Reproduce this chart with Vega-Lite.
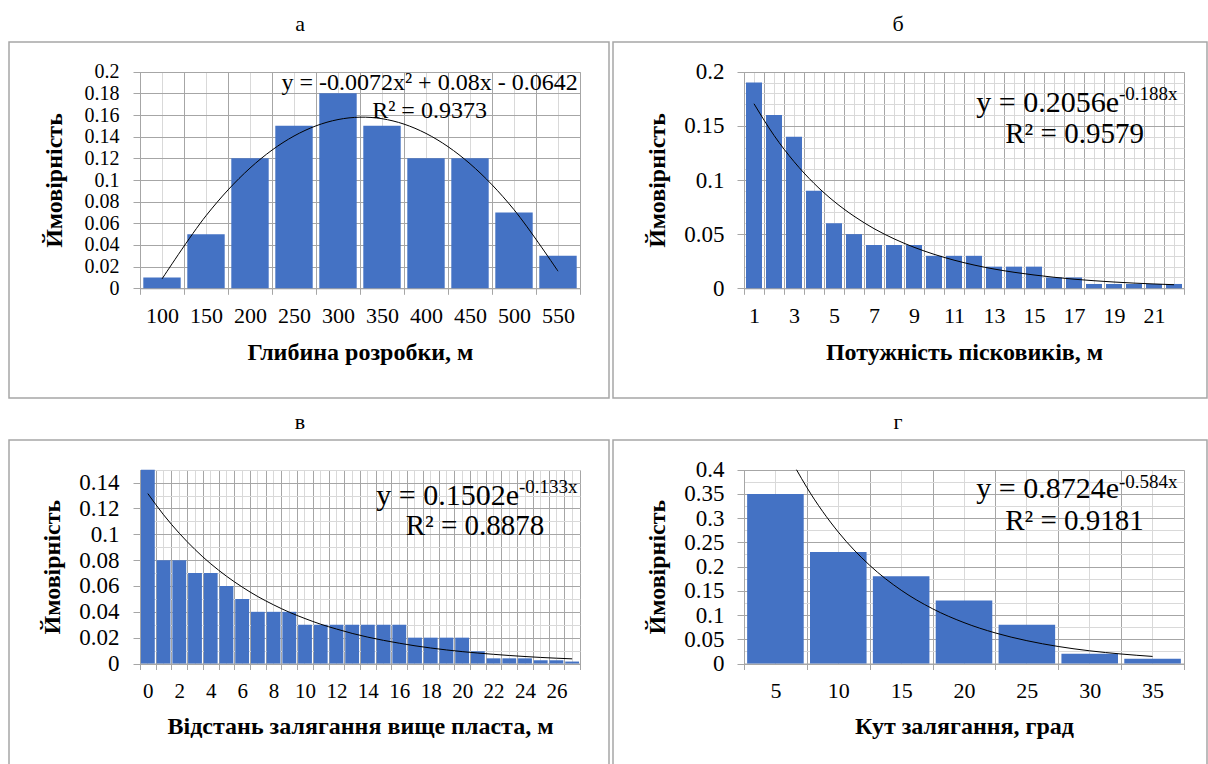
{
  "$schema": "https://vega.github.io/schema/vega-lite/v6.json",
  "padding": {"left": 8, "top": 12, "right": 0, "bottom": 0},
  "background": "white",
  "datasets": {
    "a_bars": [{"k":100,"p":0.01},{"k":150,"p":0.05},{"k":200,"p":0.12},{"k":250,"p":0.15},{"k":300,"p":0.18},{"k":350,"p":0.15},{"k":400,"p":0.12},{"k":450,"p":0.12},{"k":500,"p":0.07},{"k":550,"p":0.03}],
    "a_trend": [{"t":1,"v":0.0086},{"t":2,"v":0.067},{"t":3,"v":0.111},{"t":4,"v":0.1406},{"t":5,"v":0.1558},{"t":6,"v":0.1566},{"t":7,"v":0.143},{"t":8,"v":0.115},{"t":9,"v":0.0726},{"t":10,"v":0.0158}],
    "a_eq": [{"eq":"y = -0.0072x² + 0.08x - 0.0642","r2":"R² = 0.9373"}],
    "b_bars": [{"k":1,"p":0.19},{"k":2,"p":0.16},{"k":3,"p":0.14},{"k":4,"p":0.09},{"k":5,"p":0.06},{"k":6,"p":0.05},{"k":7,"p":0.04},{"k":8,"p":0.04},{"k":9,"p":0.04},{"k":10,"p":0.03},{"k":11,"p":0.03},{"k":12,"p":0.03},{"k":13,"p":0.02},{"k":14,"p":0.02},{"k":15,"p":0.02},{"k":16,"p":0.01},{"k":17,"p":0.01},{"k":18,"p":0.004},{"k":19,"p":0.004},{"k":20,"p":0.004},{"k":21,"p":0.004},{"k":22,"p":0.004}],
    "b_trend": [{"t":1,"v":0.1704},{"t":2,"v":0.1412},{"t":3,"v":0.117},{"t":4,"v":0.0969},{"t":5,"v":0.0803},{"t":6,"v":0.0666},{"t":7,"v":0.0551},{"t":8,"v":0.0457},{"t":9,"v":0.0379},{"t":10,"v":0.0314},{"t":11,"v":0.026},{"t":12,"v":0.0215},{"t":13,"v":0.0178},{"t":14,"v":0.0148},{"t":15,"v":0.0123},{"t":16,"v":0.0102},{"t":17,"v":0.0084},{"t":18,"v":0.007},{"t":19,"v":0.0058},{"t":20,"v":0.0048},{"t":21,"v":0.004},{"t":22,"v":0.0033}],
    "b_eq": [{"eq":"y = 0.2056e","ex":"-0.188x","r2":"R² = 0.9579"}],
    "c_bars": [{"k":0,"p":0.15},{"k":1,"p":0.08},{"k":2,"p":0.08},{"k":3,"p":0.07},{"k":4,"p":0.07},{"k":5,"p":0.06},{"k":6,"p":0.05},{"k":7,"p":0.04},{"k":8,"p":0.04},{"k":9,"p":0.04},{"k":10,"p":0.03},{"k":11,"p":0.03},{"k":12,"p":0.03},{"k":13,"p":0.03},{"k":14,"p":0.03},{"k":15,"p":0.03},{"k":16,"p":0.03},{"k":17,"p":0.02},{"k":18,"p":0.02},{"k":19,"p":0.02},{"k":20,"p":0.02},{"k":21,"p":0.0095},{"k":22,"p":0.004},{"k":23,"p":0.004},{"k":24,"p":0.004},{"k":25,"p":0.0025},{"k":26,"p":0.0025},{"k":27,"p":0.0015}],
    "c_trend": [{"t":1,"v":0.1315},{"t":2,"v":0.1151},{"t":3,"v":0.1008},{"t":4,"v":0.0882},{"t":5,"v":0.0772},{"t":6,"v":0.0676},{"t":7,"v":0.0592},{"t":8,"v":0.0518},{"t":9,"v":0.0454},{"t":10,"v":0.0397},{"t":11,"v":0.0348},{"t":12,"v":0.0304},{"t":13,"v":0.0267},{"t":14,"v":0.0233},{"t":15,"v":0.0204},{"t":16,"v":0.0179},{"t":17,"v":0.0157},{"t":18,"v":0.0137},{"t":19,"v":0.012},{"t":20,"v":0.0105},{"t":21,"v":0.0092},{"t":22,"v":0.0081},{"t":23,"v":0.0071},{"t":24,"v":0.0062},{"t":25,"v":0.0054},{"t":26,"v":0.0047},{"t":27,"v":0.0041},{"t":28,"v":0.0036}],
    "c_eq": [{"eq":"y = 0.1502e","ex":"-0.133x","r2":"R² = 0.8878"}],
    "d_bars": [{"k":5,"p":0.35},{"k":10,"p":0.23},{"k":15,"p":0.18},{"k":20,"p":0.13},{"k":25,"p":0.08},{"k":30,"p":0.02},{"k":35,"p":0.01}],
    "d_trend": [{"t":1.335,"v":0.4},{"t":1.5,"v":0.3633},{"t":2,"v":0.2713},{"t":2.5,"v":0.2026},{"t":3,"v":0.1513},{"t":3.5,"v":0.113},{"t":4,"v":0.0844},{"t":4.5,"v":0.063},{"t":5,"v":0.0471},{"t":5.5,"v":0.0351},{"t":6,"v":0.0262},{"t":6.5,"v":0.0196},{"t":7,"v":0.0146}],
    "d_eq": [{"eq":"y = 0.8724e","ex":"-0.584x","r2":"R² = 0.9181"}]
  },
  "spacing": 11,
  "bounds": "full",
  "vconcat": [
    {
      "spacing": 4,
      "bounds": "flush",
      "hconcat": [
        {
          "width": 600, "height": 356,
          "title": {"text": "а", "dx": -9},
          "layer": [
            {
              "data": {"name": "a_bars"},
              "mark": {"type": "bar", "opacity": 0},
              "encoding": {
                "x": {"field": "k", "type": "ordinal", "scale": {"range": [131, 571], "paddingInner": 0, "paddingOuter": 0},
                      "axis": {"orient": "top", "offset": 0, "grid": true, "gridColor": "#d9d9d9", "labels": false, "ticks": false, "domain": false, "title": null}},
                "y": {"field": "p", "type": "quantitative", "scale": {"domain": [0, 0.2], "range": [246.3, 29.7], "nice": false}, "axis": null}
              }
            },
            {
              "data": {"name": "a_bars"},
              "mark": {"type": "bar", "opacity": 0},
              "encoding": {
                "x": {"field": "k", "type": "ordinal", "scale": {"range": [131, 571], "paddingInner": 0, "paddingOuter": 0},
                      "axis": {"orient": "top", "offset": 0, "tickBand": "extent", "grid": true, "labels": false, "ticks": false, "domain": false, "title": null}},
                "y": {"field": "p", "type": "quantitative", "scale": {"domain": [0, 0.2], "range": [246.3, 29.7], "nice": false}, "axis": null}
              }
            },
            {
              "data": {"name": "a_bars"},
              "mark": {"type": "bar", "color": "#4472C4", "width": {"band": 0.85}},
              "encoding": {
                "x": {"field": "k", "type": "ordinal", "scale": {"range": [131, 571], "paddingInner": 0, "paddingOuter": 0},
                      "axis": {"orient": "bottom", "offset": -109.7, "tickBand": "extent", "grid": false, "labelAngle": 0, "labelOverlap": false, "tickSize": 6, "labelPadding": 11, "labelFontSize": 22, "title": "Глибина розробки, м", "titlePadding": 14}},
                "y": {"field": "p", "type": "quantitative", "scale": {"domain": [0, 0.2], "range": [246.3, 29.7], "nice": false},
                      "axis": {"orient": "left", "offset": -131, "values": [0,0.02,0.04,0.06,0.08,0.1,0.12,0.14,0.16,0.18,0.2], "format": "~g", "labelOverlap": false, "labelFontSize": 20, "grid": true, "tickSize": 7, "labelPadding": 14, "title": "Ймовірність", "titlePadding": 18}}
              }
            },
            {
              "layer": [
                {
                  "data": {"name": "a_trend"},
                  "mark": {"type": "line", "color": "black", "strokeWidth": 1, "interpolate": "cardinal"},
                  "encoding": {
                    "x": {"field": "t", "type": "quantitative", "scale": {"domain": [0.5, 10.5], "range": [131, 571], "nice": false, "zero": false}, "axis": null},
                    "y": {"field": "v", "type": "quantitative", "axis": null}
                  }
                },
                {
                  "data": {"name": "a_eq"},
                  "mark": {"type": "text", "fontSize": 24, "align": "center", "baseline": "middle"},
                  "encoding": {"x": {"datum": 7.08, "type": "quantitative", "axis": null}, "y": {"datum": 0.1896, "type": "quantitative", "axis": null}, "text": {"field": "eq"}}
                },
                {
                  "data": {"name": "a_eq"},
                  "mark": {"type": "text", "fontSize": 24, "align": "center", "baseline": "middle"},
                  "encoding": {"x": {"datum": 7.08, "type": "quantitative", "axis": null}, "y": {"datum": 0.1637, "type": "quantitative", "axis": null}, "text": {"field": "r2"}}
                }
              ]
            }
          ],
          "resolve": {"scale": {"x": "independent"}, "axis": {"x": "independent", "y": "independent"}}
        },
        {
          "width": 594, "height": 356,
          "title": {"text": "б", "dx": -12},
          "layer": [
            {
              "data": {"name": "b_bars"},
              "mark": {"type": "bar", "opacity": 0},
              "encoding": {
                "x": {"field": "k", "type": "ordinal", "scale": {"range": [131, 571], "paddingInner": 0, "paddingOuter": 0},
                      "axis": {"orient": "top", "offset": 0, "grid": true, "gridColor": "#d9d9d9", "labels": false, "ticks": false, "domain": false, "title": null}},
                "y": {"field": "p", "type": "quantitative", "scale": {"domain": [0, 0.2], "range": [246.3, 29.7], "nice": false},
                      "axis": {"orient": "left", "offset": -131, "values": [0,0.01,0.02,0.03,0.04,0.05,0.06,0.07,0.08,0.09,0.1,0.11,0.12,0.13,0.14,0.15,0.16,0.17,0.18,0.19,0.2], "grid": true, "gridColor": "#d9d9d9", "labels": false, "ticks": false, "domain": false, "title": null}}
              }
            },
            {
              "data": {"name": "b_bars"},
              "mark": {"type": "bar", "opacity": 0},
              "encoding": {
                "x": {"field": "k", "type": "ordinal", "scale": {"range": [131, 571], "paddingInner": 0, "paddingOuter": 0},
                      "axis": {"orient": "top", "offset": 0, "tickBand": "extent", "grid": true, "labels": false, "ticks": false, "domain": false, "title": null}},
                "y": {"field": "p", "type": "quantitative", "scale": {"domain": [0, 0.2], "range": [246.3, 29.7], "nice": false}, "axis": null}
              }
            },
            {
              "data": {"name": "b_bars"},
              "mark": {"type": "bar", "color": "#4472C4", "width": {"band": 0.8}},
              "encoding": {
                "x": {"field": "k", "type": "ordinal", "scale": {"range": [131, 571], "paddingInner": 0, "paddingOuter": 0},
                      "axis": {"orient": "bottom", "offset": -109.7, "tickBand": "extent", "grid": false, "labelAngle": 0, "labelOverlap": false, "labelExpr": "datum.value % 2 == 1 ? datum.label : ''", "tickSize": 6, "labelPadding": 11, "labelFontSize": 22, "title": "Потужність пісковиків, м", "titlePadding": 14}},
                "y": {"field": "p", "type": "quantitative", "scale": {"domain": [0, 0.2], "range": [246.3, 29.7], "nice": false},
                      "axis": {"orient": "left", "offset": -131, "values": [0,0.05,0.1,0.15,0.2], "format": "~g", "labelOverlap": false, "grid": true, "tickSize": 7, "labelPadding": 13, "title": "Ймовірність", "titlePadding": 14}}
              }
            },
            {
              "layer": [
                {
                  "data": {"name": "b_trend"},
                  "mark": {"type": "line", "color": "black", "strokeWidth": 1, "interpolate": "monotone"},
                  "encoding": {
                    "x": {"field": "t", "type": "quantitative", "scale": {"domain": [0.5, 22.5], "range": [131, 571], "nice": false, "zero": false}, "axis": null},
                    "y": {"field": "v", "type": "quantitative", "axis": null}
                  }
                },
                {
                  "data": {"name": "b_eq"},
                  "mark": {"type": "text", "fontSize": 30, "align": "right", "baseline": "middle"},
                  "encoding": {"x": {"datum": 19.25, "type": "quantitative", "axis": null}, "y": {"datum": 0.1714, "type": "quantitative", "axis": null}, "text": {"field": "eq"}}
                },
                {
                  "data": {"name": "b_eq"},
                  "mark": {"type": "text", "fontSize": 19, "align": "left", "baseline": "middle"},
                  "encoding": {"x": {"datum": 19.25, "type": "quantitative", "axis": null}, "y": {"datum": 0.1794, "type": "quantitative", "axis": null}, "text": {"field": "ex"}}
                },
                {
                  "data": {"name": "b_eq"},
                  "mark": {"type": "text", "fontSize": 29, "align": "center", "baseline": "middle"},
                  "encoding": {"x": {"datum": 17.03, "type": "quantitative", "axis": null}, "y": {"datum": 0.1425, "type": "quantitative", "axis": null}, "text": {"field": "r2"}}
                }
              ]
            }
          ],
          "resolve": {"scale": {"x": "independent"}, "axis": {"x": "independent", "y": "independent"}}
        }
      ]
    },
    {
      "spacing": 4,
      "bounds": "flush",
      "hconcat": [
        {
          "width": 600, "height": 325,
          "title": {"text": "в", "dx": -9},
          "layer": [
            {
              "data": {"name": "c_bars"},
              "mark": {"type": "bar", "opacity": 0},
              "encoding": {
                "x": {"field": "k", "type": "ordinal", "scale": {"range": [131, 571], "paddingInner": 0, "paddingOuter": 0},
                      "axis": {"orient": "top", "offset": 0, "grid": true, "gridColor": "#d9d9d9", "labels": false, "ticks": false, "domain": false, "title": null}},
                "y": {"field": "p", "type": "quantitative", "scale": {"domain": [0, 0.15], "range": [223.5, 29.7], "nice": false},
                      "axis": {"orient": "left", "offset": -131, "values": [0,0.01,0.02,0.03,0.04,0.05,0.06,0.07,0.08,0.09,0.1,0.11,0.12,0.13,0.14,0.15], "grid": true, "gridColor": "#d9d9d9", "labels": false, "ticks": false, "domain": false, "title": null}}
              }
            },
            {
              "data": {"name": "c_bars"},
              "mark": {"type": "bar", "opacity": 0},
              "encoding": {
                "x": {"field": "k", "type": "ordinal", "scale": {"range": [131, 571], "paddingInner": 0, "paddingOuter": 0},
                      "axis": {"orient": "top", "offset": 0, "tickBand": "extent", "grid": true, "labels": false, "ticks": false, "domain": false, "title": null}},
                "y": {"field": "p", "type": "quantitative", "scale": {"domain": [0, 0.15], "range": [223.5, 29.7], "nice": false}, "axis": null}
              }
            },
            {
              "data": {"name": "c_bars"},
              "mark": {"type": "bar", "color": "#4472C4", "width": {"band": 0.88}},
              "encoding": {
                "x": {"field": "k", "type": "ordinal", "scale": {"range": [131, 571], "paddingInner": 0, "paddingOuter": 0},
                      "axis": {"orient": "bottom", "offset": -101.5, "tickBand": "extent", "grid": false, "labelAngle": 0, "labelOverlap": false, "labelExpr": "datum.value % 2 == 0 ? datum.label : ''", "tickSize": 6, "labelPadding": 11, "labelFontSize": 21, "title": "Відстань залягання вище пласта, м", "titlePadding": 13}},
                "y": {"field": "p", "type": "quantitative", "scale": {"domain": [0, 0.15], "range": [223.5, 29.7], "nice": false},
                      "axis": {"orient": "left", "offset": -131, "values": [0,0.02,0.04,0.06,0.08,0.1,0.12,0.14], "format": "~g", "labelOverlap": false, "grid": true, "tickSize": 7, "labelPadding": 14, "title": "Ймовірність", "titlePadding": 14}}
              }
            },
            {
              "layer": [
                {
                  "data": {"name": "c_trend"},
                  "mark": {"type": "line", "color": "black", "strokeWidth": 1, "interpolate": "monotone"},
                  "encoding": {
                    "x": {"field": "t", "type": "quantitative", "scale": {"domain": [0.5, 28.5], "range": [131, 571], "nice": false, "zero": false}, "axis": null},
                    "y": {"field": "v", "type": "quantitative", "axis": null}
                  }
                },
                {
                  "data": {"name": "c_eq"},
                  "mark": {"type": "text", "fontSize": 30, "align": "right", "baseline": "middle"},
                  "encoding": {"x": {"datum": 24.62, "type": "quantitative", "axis": null}, "y": {"datum": 0.1295, "type": "quantitative", "axis": null}, "text": {"field": "eq"}}
                },
                {
                  "data": {"name": "c_eq"},
                  "mark": {"type": "text", "fontSize": 19, "align": "left", "baseline": "middle"},
                  "encoding": {"x": {"datum": 24.62, "type": "quantitative", "axis": null}, "y": {"datum": 0.1364, "type": "quantitative", "axis": null}, "text": {"field": "ex"}}
                },
                {
                  "data": {"name": "c_eq"},
                  "mark": {"type": "text", "fontSize": 29, "align": "center", "baseline": "middle"},
                  "encoding": {"x": {"datum": 21.82, "type": "quantitative", "axis": null}, "y": {"datum": 0.1062, "type": "quantitative", "axis": null}, "text": {"field": "r2"}}
                }
              ]
            }
          ],
          "resolve": {"scale": {"x": "independent"}, "axis": {"x": "independent", "y": "independent"}}
        },
        {
          "width": 594, "height": 325,
          "title": {"text": "г", "dx": -12},
          "layer": [
            {
              "data": {"name": "d_bars"},
              "mark": {"type": "bar", "opacity": 0},
              "encoding": {
                "x": {"field": "k", "type": "ordinal", "scale": {"range": [131, 571], "paddingInner": 0, "paddingOuter": 0},
                      "axis": {"orient": "top", "offset": 0, "grid": true, "gridColor": "#d9d9d9", "labels": false, "ticks": false, "domain": false, "title": null}},
                "y": {"field": "p", "type": "quantitative", "scale": {"domain": [0, 0.4], "range": [223.5, 29.7], "nice": false},
                      "axis": {"orient": "left", "offset": -131, "values": [0,0.025,0.05,0.075,0.1,0.125,0.15,0.175,0.2,0.225,0.25,0.275,0.3,0.325,0.35,0.375,0.4], "grid": true, "gridColor": "#d9d9d9", "labels": false, "ticks": false, "domain": false, "title": null}}
              }
            },
            {
              "data": {"name": "d_bars"},
              "mark": {"type": "bar", "opacity": 0},
              "encoding": {
                "x": {"field": "k", "type": "ordinal", "scale": {"range": [131, 571], "paddingInner": 0, "paddingOuter": 0},
                      "axis": {"orient": "top", "offset": 0, "tickBand": "extent", "grid": true, "labels": false, "ticks": false, "domain": false, "title": null}},
                "y": {"field": "p", "type": "quantitative", "scale": {"domain": [0, 0.4], "range": [223.5, 29.7], "nice": false}, "axis": null}
              }
            },
            {
              "data": {"name": "d_bars"},
              "mark": {"type": "bar", "color": "#4472C4", "width": {"band": 0.9}},
              "encoding": {
                "x": {"field": "k", "type": "ordinal", "scale": {"range": [131, 571], "paddingInner": 0, "paddingOuter": 0},
                      "axis": {"orient": "bottom", "offset": -101.5, "tickBand": "extent", "grid": false, "labelAngle": 0, "labelOverlap": false, "tickSize": 6, "labelPadding": 11, "labelFontSize": 22, "title": "Кут залягання, град", "titlePadding": 13}},
                "y": {"field": "p", "type": "quantitative", "scale": {"domain": [0, 0.4], "range": [223.5, 29.7], "nice": false},
                      "axis": {"orient": "left", "offset": -131, "values": [0,0.05,0.1,0.15,0.2,0.25,0.3,0.35,0.4], "format": "~g", "labelOverlap": false, "grid": true, "tickSize": 7, "labelPadding": 13, "title": "Ймовірність", "titlePadding": 14}}
              }
            },
            {
              "layer": [
                {
                  "data": {"name": "d_trend"},
                  "mark": {"type": "line", "color": "black", "strokeWidth": 1, "interpolate": "monotone"},
                  "encoding": {
                    "x": {"field": "t", "type": "quantitative", "scale": {"domain": [0.5, 7.5], "range": [131, 571], "nice": false, "zero": false}, "axis": null},
                    "y": {"field": "v", "type": "quantitative", "axis": null}
                  }
                },
                {
                  "data": {"name": "d_eq"},
                  "mark": {"type": "text", "fontSize": 30, "align": "right", "baseline": "middle"},
                  "encoding": {"x": {"datum": 6.466, "type": "quantitative", "axis": null}, "y": {"datum": 0.3595, "type": "quantitative", "axis": null}, "text": {"field": "eq"}}
                },
                {
                  "data": {"name": "d_eq"},
                  "mark": {"type": "text", "fontSize": 19, "align": "left", "baseline": "middle"},
                  "encoding": {"x": {"datum": 6.466, "type": "quantitative", "axis": null}, "y": {"datum": 0.3746, "type": "quantitative", "axis": null}, "text": {"field": "ex"}}
                },
                {
                  "data": {"name": "d_eq"},
                  "mark": {"type": "text", "fontSize": 29, "align": "center", "baseline": "middle"},
                  "encoding": {"x": {"datum": 5.758, "type": "quantitative", "axis": null}, "y": {"datum": 0.2941, "type": "quantitative", "axis": null}, "text": {"field": "r2"}}
                }
              ]
            }
          ],
          "resolve": {"scale": {"x": "independent"}, "axis": {"x": "independent", "y": "independent"}}
        }
      ]
    }
  ],
  "config": {
    "font": "Liberation Serif",
    "view": {"stroke": "#a6a6a6", "strokeWidth": 1.5},
    "text": {"font": "Liberation Serif", "color": "black"},
    "title": {"font": "Liberation Serif", "fontSize": 22, "fontWeight": "normal", "anchor": "middle", "offset": 6, "color": "black"},
    "axis": {
      "labelFont": "Liberation Serif", "titleFont": "Liberation Serif",
      "labelColor": "black", "titleColor": "black",
      "labelFontSize": 23, "titleFontSize": 24, "titleFontWeight": "bold",
      "domainColor": "#a6a6a6", "tickColor": "#a6a6a6", "gridColor": "#a6a6a6", "gridOpacity": 1
    }
  }
}
